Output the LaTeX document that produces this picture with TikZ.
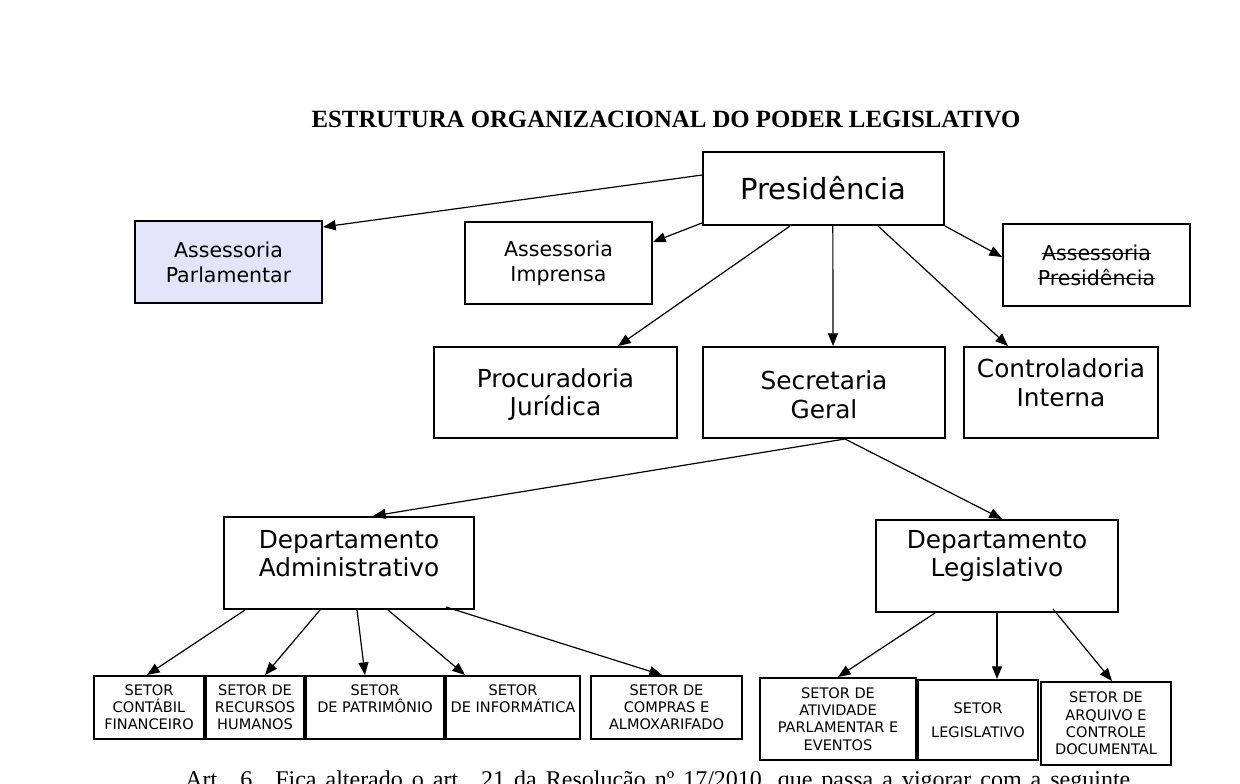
\documentclass[tikz,border=0pt]{standalone}
\usepackage{fontspec}
\setmainfont{DejaVu Sans}
\newfontfamily\timesf{Liberation Serif}
\newcommand\mystrike[1]{\setbox0\hbox{#1}\rlap{\rule[0.3em]{\wd0}{0.9pt}}\box0}
\usetikzlibrary{arrows.meta}
\definecolor{lav}{HTML}{E4E4FA}
\begin{document}
\begin{tikzpicture}[x=0.75pt,y=-0.75pt,
  box/.style={draw,line width=1.5pt,inner sep=0pt,align=center},
  sz/.style 2 args={minimum width={(#1)*0.75pt},minimum height={(#2)*0.75pt}},
  arr/.style={-{Triangle[length=9.5pt,width=7.5pt]},line width=0.9pt},
  big/.style={font=\fontsize{21.75}{26}\selectfont},
  med/.style={font=\fontsize{18.6}{21.5}\selectfont},
  sml/.style={font=\fontsize{15.4}{18.75}\selectfont},
  tny/.style={font=\fontsize{10.9}{12.9}\selectfont},
]
\clip (0,0) rectangle (1240,784);
\useasboundingbox (0,0) rectangle (1240,784);

\node[font=\timesf\bfseries\fontsize{18.6}{22}\selectfont] (title) at (666,119) {ESTRUTURA ORGANIZACIONAL DO PODER LEGISLATIVO};

\node[box,sz={241}{73},big] (pres) at (823.5,188.5) {Presidência};
\node[box,sz={187}{82},sml,fill=lav] (ap) at (228.5,262) {Assessoria\\Parlamentar};
\node[box,sz={187}{82},sml] (ai) at (558.5,263) {Assessoria\\Imprensa};
\node[box,sz={187}{82},sml] (aps) at (1096.5,265) {\mystrike{Assessoria}\\\mystrike{Presidência}};
\node[box,sz={243}{91},med,label={[med,align=center,yshift=-1.5pt]center:Procuradoria\\Jurídica}] (proc) at (555.5,392.5) {};
\node[box,sz={242}{91},med,label={[med,align=center,yshift=-1.5pt]center:Secretaria\\Geral}] (sec) at (824,392.5) {};
\node[box,sz={194}{91},med,label={[med,align=center,yshift=7.5pt]center:Controladoria\\Interna}] (ctrl) at (1061,392.5) {};
\node[box,sz={250}{92},med,label={[med,align=center,yshift=7pt]center:Departamento\\Administrativo}] (dadm) at (349,563) {};
\node[box,sz={242}{92},med,label={[med,align=center,yshift=7.5pt]center:Departamento\\Legislativo}] (dleg) at (997,566) {};

\node[box,sz={110}{63},tny] (s1) at (149,707.5) {SETOR\\CONTÁBIL\\FINANCEIRO};
\node[box,sz={98}{63},tny] (s2) at (255,707.5) {SETOR DE\\RECURSOS\\HUMANOS};
\node[box,sz={138}{63},tny,label={[tny,align=center,yshift=6.5pt]center:SETOR\\DE PATRIMÔNIO}] (s3) at (375,707.5) {};
\node[box,sz={134}{63},tny,label={[tny,align=center,yshift=6.5pt]center:SETOR\\DE INFORMÁTICA}] (s4) at (513,707.5) {};
\node[box,sz={151}{63},tny] (s5) at (666.5,707.5) {SETOR DE\\COMPRAS E\\ALMOXARIFADO};
\node[box,sz={156}{82},tny] (s6) at (838,719) {SETOR DE\\ATIVIDADE\\PARLAMENTAR E\\EVENTOS};
\node[box,sz={120}{80},font=\fontsize{10.9}{18}\selectfont] (s7) at (978,720) {SETOR\\LEGISLATIVO};
\node[box,sz={130}{83},tny] (s8) at (1106,723.5) {SETOR DE\\ARQUIVO E\\CONTROLE\\DOCUMENTAL};

\draw[arr] ([yshift=10.1pt]pres.west) -- ([yshift=-5.25pt]ap.north east);
\draw[arr] ([yshift=2.25pt]pres.south west) -- ([yshift=-15.75pt]ai.north east);
\draw[arr] (pres.south east) -- ([yshift=6pt]aps.west);
\draw[arr] ([xshift=-25.1pt]pres.south) -- ([xshift=46.9pt]proc.north);
\draw[arr] ([xshift=7pt]pres.south) -- ([xshift=6.75pt]sec.north);
\draw[arr] ([xshift=40.9pt]pres.south) -- ([xshift=-39.75pt]ctrl.north);
\draw[arr] ([xshift=15.75pt]sec.south) -- ([xshift=18pt]dadm.north);
\draw[arr] ([xshift=15.75pt]sec.south) -- ([xshift=3.75pt]dleg.north);
\draw[arr] ([xshift=-78pt]dadm.south) -- ([xshift=-1.5pt]s1.north);
\draw[arr] ([xshift=-21.75pt]dadm.south) -- ([xshift=7.5pt]s2.north);
\draw[arr] ([xshift=6pt]dadm.south) -- ([xshift=-7.5pt]s3.north);
\draw[arr] ([xshift=29.25pt]dadm.south) -- ([xshift=-36pt]s4.north);
\draw[arr] ([xshift=72.75pt,yshift=2.25pt]dadm.south) -- ([xshift=-3.4pt]s5.north);
\draw[arr] ([xshift=-46.5pt]dleg.south) -- (s6.north);
\draw[arr] (dleg.south) -- ([xshift=14.25pt]s7.north);
\draw[arr] ([xshift=42pt,yshift=3pt]dleg.south) -- ([xshift=4.5pt]s8.north);

\node[anchor=base west,inner sep=0pt,font=\timesf\fontsize{18}{22}\selectfont] (art) at (185,787) {\hbox to 708.75pt{Art. 6. Fica alterado o art. 21 da Resolução nº 17/2010, que passa a vigorar com a seguinte}};
\end{tikzpicture}
\end{document}
